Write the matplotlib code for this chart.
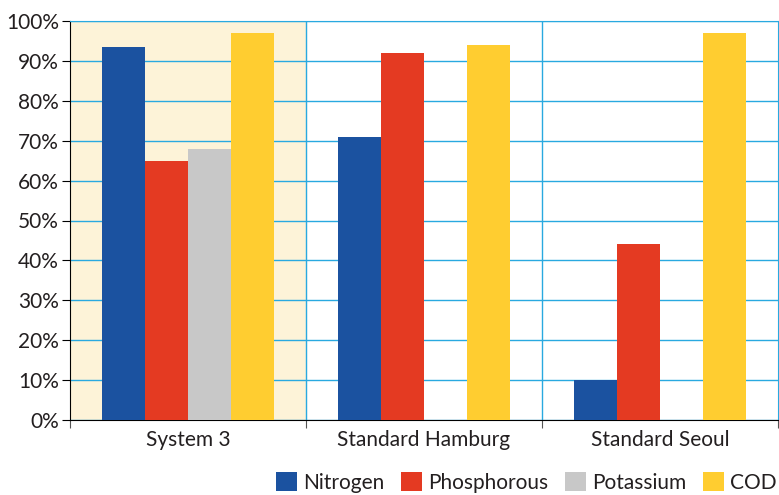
import matplotlib.pyplot as plt
import numpy as np

# data
categories = ["System 3", "Standard Hamburg", "Standard Seoul"]
series = ["Nitrogen", "Phosphorous", "Potassium", "COD"]
nitrogen = [93.5, 71, 10]
phosphorous = [65, 92, 44]
potassium = [68, 0, 0]
cod = [97, 94, 97]
yticks = [0, 10, 20, 30, 40, 50, 60, 70, 80, 90, 100]

colors = ["#1B52A0", "#E43A22", "#C8C8C8", "#FFCD30"]
grid_blue = "#29A9E0"

plt.rcParams["font.family"] = ["Lato", "DejaVu Sans"]

fig = plt.figure(figsize=(7.79, 4.95), dpi=100)
ax = fig.add_axes([70 / 779, 75 / 495, 708 / 779, 399 / 495])

x = np.arange(len(categories))
width = 43 / 236
values = [nitrogen, phosphorous, potassium, cod]

# highlight the first group
ax.axvspan(-0.5, 0.5, color="#FDF3D8", zorder=0)

for i, (name, vals) in enumerate(zip(series, values)):
    offs = (i - 1.5) * width
    ax.bar(x + offs, vals, width, color=colors[i], label=name, zorder=3)

ax.set_xlim(-0.5, 2.5)
ax.set_ylim(0, 100)
ax.set_yticks(yticks)
ax.set_yticklabels([f"{v}%" for v in yticks])

ax.set_xticks([-0.5, 0.5, 1.5, 2.5])
ax.set_xticklabels([])
ax.set_xticks(x, minor=True)
ax.set_xticklabels(categories, minor=True)
ax.tick_params(axis="x", which="minor", length=0, pad=7, labelsize=15, colors="#231F20")
ax.tick_params(axis="x", which="major", length=6, color="#555555")
ax.tick_params(axis="y", length=6, labelsize=15, colors="black", labelcolor="#231F20", pad=2)

ax.yaxis.grid(True, color=grid_blue, linewidth=1, zorder=1)
ax.set_axisbelow(True)
for xv in [0.5, 1.5]:
    ax.axvline(xv, color=grid_blue, linewidth=1, zorder=1)

ax.spines["top"].set_color(grid_blue)
ax.spines["right"].set_color(grid_blue)
ax.spines["left"].set_color("black")
ax.spines["bottom"].set_color("black")

fig.legend(loc="lower right", bbox_to_anchor=(1.008, -0.012), ncol=4, frameon=False,
           fontsize=15, handlelength=1.0, handleheight=1.0, handletextpad=0.3,
           columnspacing=0.8, borderaxespad=0.0, labelcolor="#231F20")

fig.savefig("out.png", dpi=100)
